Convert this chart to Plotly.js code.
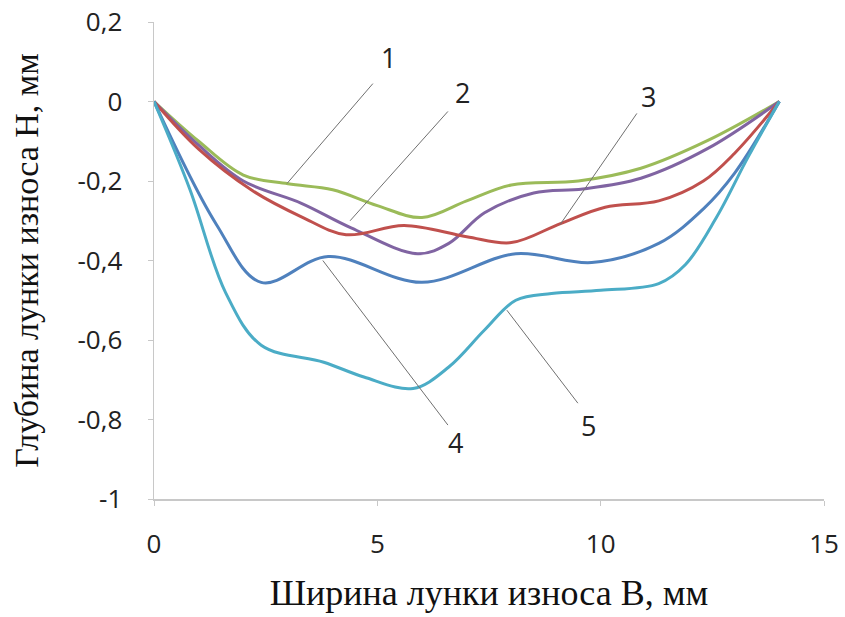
<!DOCTYPE html>
<html>
<head>
<meta charset="utf-8">
<script src="https://cdn.plot.ly/plotly-3.0.1.min.js"></script>
<style>html,body{margin:0;padding:0;background:#fff;}#chart{width:845px;height:617px;}</style>
</head>
<body>
<div id="chart"></div>
<script>
// Curve labels
var curveNames = ["1", "2", "3", "4", "5"];
// Width of wear hole B, mm (x) and depth H, mm (y) for each curve
var x1 = [0, 1, 2, 3, 4, 5, 6, 7, 8, 9.5, 10.9, 12.4, 14];
var y1 = [0, -0.1, -0.185, -0.207, -0.222, -0.262, -0.292, -0.25, -0.21, -0.2, -0.168, -0.098, 0];
var x2 = [0, 1, 2, 3.3, 4.4, 5.9, 6.6, 7.4, 8.5, 9.6, 10.9, 12.4, 14];
var y2 = [0, -0.11, -0.2, -0.256, -0.317, -0.383, -0.357, -0.28, -0.23, -0.22, -0.193, -0.118, 0];
var x3 = [0, 1, 2.2, 3.3, 4.3, 5.6, 7, 8, 9.1, 10.1, 11.3, 12.3, 13, 14];
var y3 = [0, -0.12, -0.224, -0.29, -0.335, -0.312, -0.34, -0.355, -0.307, -0.266, -0.25, -0.2, -0.13, 0];
var x4 = [0, 1.4, 2.4, 3.9, 6, 8.1, 9.8, 11.3, 12.3, 13, 14];
var y4 = [0, -0.31, -0.455, -0.39, -0.455, -0.383, -0.405, -0.357, -0.27, -0.18, 0];
var x5 = [0, 0.8, 1.6, 2.4, 3.8, 4.7, 5.8, 6.6, 7.4, 8.1, 8.9, 10, 11.3, 11.9, 12.6, 13.3, 14];
var y5 = [0, -0.22, -0.48, -0.613, -0.656, -0.693, -0.722, -0.668, -0.575, -0.5, -0.483, -0.475, -0.458, -0.41, -0.29, -0.14, 0];
var colors = ["#9BBB59", "#8064A2", "#C0504D", "#4F81BD", "#4BACC6"];
// Tick values
var xTicks = [0, 5, 10, 15];
var yTicks = [0.2, 0, -0.2, -0.4, -0.6, -0.8, -1];
// Callout label positions (label text point and leader line end on curve)
var labelPos = [[5.26, 0.11], [6.9, 0.023], [11.06, 0.013], [6.74, -0.857], [9.72, -0.814]];
var leaderStart = [[4.9, 0.045], [6.58, -0.025], [10.81, -0.03], [6.58, -0.814], [9.49, -0.759]];
var leaderEnd = [[2.98, -0.206], [4.39, -0.3], [9.09, -0.31], [3.78, -0.4], [7.9, -0.525]];

var xs = [x1, x2, x3, x4, x5];
var ys = [y1, y2, y3, y4, y5];
var traces = [];
for (var i = 0; i < 5; i++) {
  traces.push({
    x: xs[i], y: ys[i], name: curveNames[i], type: "scatter", mode: "lines",
    line: {color: colors[i], width: 3, shape: "spline", smoothing: 1},
    hoverinfo: "skip"
  });
}
var shapes = [], annotations = [];
for (var j = 0; j < 5; j++) {
  shapes.push({type: "line", xref: "x", yref: "y",
    x0: leaderStart[j][0], y0: leaderStart[j][1], x1: leaderEnd[j][0], y1: leaderEnd[j][1],
    line: {color: "#707070", width: 1}});
  annotations.push({x: labelPos[j][0], y: labelPos[j][1], xref: "x", yref: "y",
    text: curveNames[j], showarrow: false,
    font: {family: "Open Sans, sans-serif", size: 27, color: "#222"}});
}
var layout = {
  width: 845, height: 617,
  margin: {l: 154, r: 21, t: 22, b: 118},
  paper_bgcolor: "#fff", plot_bgcolor: "#fff",
  separators: ", ",
  showlegend: false,
  xaxis: {
    range: [0, 15], tickvals: xTicks, ticktext: xTicks.map(String),
    showgrid: false, zeroline: false, showline: true, linecolor: "#c8c8c8", linewidth: 1.5,
    ticks: "outside", ticklen: 5, tickcolor: "#c8c8c8", ticklabelstandoff: 16,
    tickfont: {family: "Open Sans, sans-serif", size: 26, color: "#222"},
    title: {text: "Ширина лунки износа В, мм", standoff: 20,
      font: {family: "Liberation Serif, serif", size: 36, color: "#111"}}
  },
  yaxis: {
    range: [-1, 0.2], tickvals: yTicks, ticktext: yTicks.map(function(v){return String(v).replace(".", ",");}),
    showgrid: false, zeroline: false, showline: true, linecolor: "#c8c8c8", linewidth: 1.5,
    ticks: "outside", ticklen: 5, tickcolor: "#c8c8c8", ticklabelstandoff: 20,
    tickfont: {family: "Open Sans, sans-serif", size: 26, color: "#222"},
    title: {text: "Глубина лунки износа Н, мм", standoff: 28,
      font: {family: "Liberation Serif, serif", size: 34, color: "#111"}}
  },
  shapes: shapes,
  annotations: annotations
};
Plotly.newPlot("chart", traces, layout, {staticPlot: true, displayModeBar: false});
</script>
</body>
</html>
